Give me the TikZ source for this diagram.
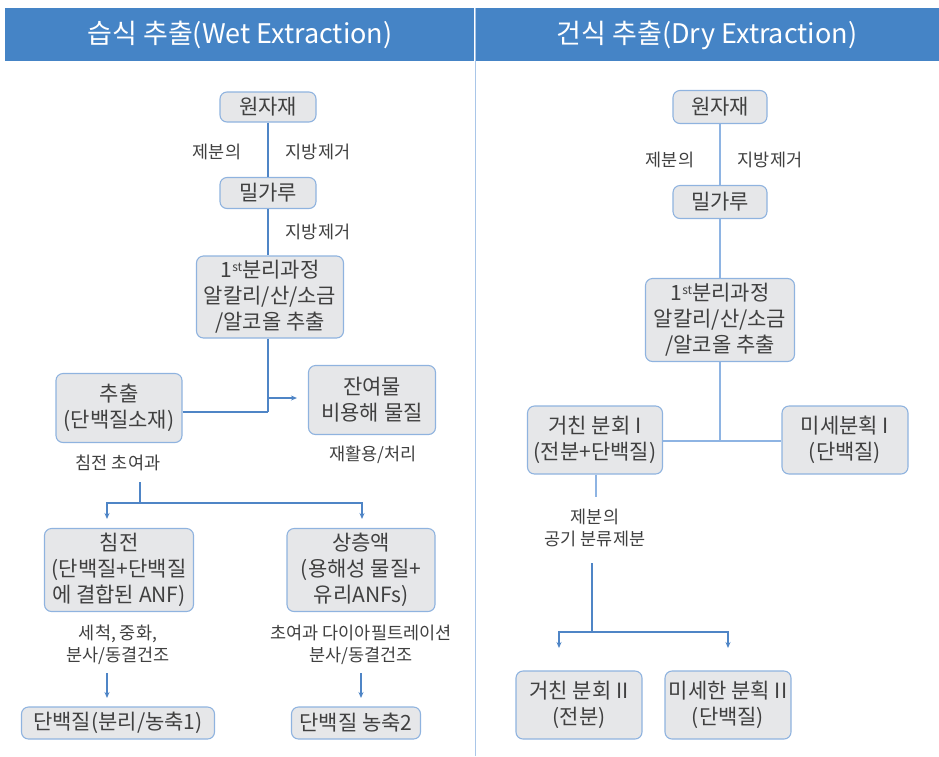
\documentclass[tikz,border=0pt]{standalone}
\usepackage{fontspec}
\setmainfont{Noto Sans CJK KR}
\usetikzlibrary{arrows.meta}
\definecolor{hdr}{HTML}{4584C6}
\definecolor{divc}{HTML}{A9C6E8}
\definecolor{boxfill}{HTML}{E6E7E9}
\definecolor{boxedge}{HTML}{8FB3DF}
\definecolor{lineb}{HTML}{4F85C6}
\definecolor{linel}{HTML}{8EB4E3}
\definecolor{txt}{HTML}{404040}
\tikzset{
  box/.style={draw=boxedge, fill=boxfill, rounded corners=7pt, line width=1.1pt,
    align=center, inner sep=0pt, text=txt, font=\fontsize{21}{26}\selectfont},
  lab/.style={align=center, text=txt, inner sep=0pt, font=\fontsize{17.5}{22}\selectfont},
  conn/.style={draw=lineb, line width=1.1pt},
  connl/.style={draw=linel, line width=1.6pt},
  arr/.style={conn, -{Stealth[length=6pt,width=5pt]}},
  hdrtext/.style={text=white, font=\fontsize{27}{30}\selectfont}
}
\newcommand{\stsup}{\raisebox{0.55ex}{\fontsize{12}{12}\selectfont st}}
\begin{document}
\begin{tikzpicture}[x=1pt,y=-1pt]
\useasboundingbox (0,0) rectangle (939,756);
% header
\fill[hdr] (5,8) rectangle (474,61);
\fill[hdr] (476,8) rectangle (939,61);
\node[hdrtext] (h1) at (240,35) {습식 추출(Wet Extraction)};
\node[hdrtext] (h2) at (707,35) {건식 추출(Dry Extraction)};
\draw[divc, line width=0.8pt] (475,8) -- (475,756);

% ===== left column =====
\node[box, minimum width=96, minimum height=30] (w1) at (268,107) {원자재};
\node[box, minimum width=96, minimum height=31] (w2) at (268,193) {밀가루};
\node[lab] (l1) at (217,152) {제분의};
\node[lab] (l2) at (318,152) {지방제거};
\node[lab] (l3) at (318,232) {지방제거};
\node[box, minimum width=147, minimum height=82] (w3) at (270,297) {1\stsup 분리과정\\알칼리/산/소금\\/알코올 추출};
\node[box, minimum width=126, minimum height=69] (w4) at (119,408) {추출\\(단백질소재)};
\node[box, minimum width=127, minimum height=69] (w5) at (372,400) {잔여물\\비용해 물질};
\node[lab] (l4) at (118,463) {침전 초여과};
\node[lab] (l5) at (373,455) {재활용/처리};
\node[box, minimum width=149, minimum height=83] (w6) at (119,570) {침전\\(단백질+단백질\\에 결합된 ANF)};
\node[box, minimum width=148, minimum height=83] (w7) at (361,570) {상층액\\(용해성 물질+\\유리ANFs)};
\node[lab] (l6) at (118,645) {세척, 중화,\\분사/동결건조};
\node[lab] (l7) at (361,645) {초여과 다이아필트레이션\\분사/동결건조};
\node[box, minimum width=193, minimum height=32] (w8) at (118,723) {단백질(분리/농축1)};
\node[box, minimum width=129, minimum height=32] (w9) at (356,723) {단백질 농축2};

\coordinate (j1) at (268,412);
\coordinate (j2) at (268,398);
\coordinate (c1) at (140,482);
\coordinate (j3) at (140,503);
\coordinate (a1) at (107,519);
\coordinate (a2) at (362,519);
\coordinate (b1) at (107,673);
\coordinate (b1e) at (107,698);
\coordinate (b2) at (361,673);
\coordinate (b2e) at (361,698);

\draw[conn] (w1.south -| j1) -- (w2.north -| j1);
\draw[conn] (w2.south -| j1) -- (w3.north -| j1);
\draw[conn] (w3.south -| j1) -- (j1);
\draw[conn] (w4.east |- j1) -- (j1);
\draw[arr] (j2) -- ([xshift=-11pt]w5.west |- j2);
\draw[conn] (c1) -- (j3);
\draw[arr] (j3) -| (a1);
\draw[arr] (j3) -| (a2);
\draw[arr] (b1) -- (b1e);
\draw[arr] (b2) -- (b2e);

% ===== right column =====
\node[box, minimum width=94, minimum height=33] (r1) at (720,107) {원자재};
\node[box, minimum width=94, minimum height=33] (r2) at (720,202) {밀가루};
\node[lab] (m1) at (670,160) {제분의};
\node[lab] (m2) at (770,160) {지방제거};
\node[box, minimum width=149, minimum height=83] (r3) at (720,320) {1\stsup 분리과정\\알칼리/산/소금\\/알코올 추출};
\node[box, minimum width=135, minimum height=68] (r4) at (595,440) {거친 분회 I\\(전분+단백질)};
\node[box, minimum width=126, minimum height=68] (r5) at (845,440) {미세분획 I\\(단백질)};
\node[lab] (m3) at (595,528) {제분의\\공기 분류제분};
\node[box, minimum width=126, minimum height=68] (r6) at (579,705) {거친 분회 II\\(전분)};
\node[box, minimum width=126, minimum height=68] (r7) at (728,705) {미세한 분획 II\\(단백질)};

\coordinate (k1) at (720,441);
\coordinate (k2) at (596,497);
\coordinate (k3) at (592,563);
\coordinate (k4) at (592,632);
\coordinate (e1) at (559,648);
\coordinate (e2) at (728,648);

\draw[connl] (r1) -- (r2);
\draw[connl] (r2) -- (r3);
\draw[connl] (r3.south) -- (k1);
\draw[connl] (r4.east |- k1) -- (r5.west |- k1);
\draw[connl] (r4.south -| k2) -- (k2);
\draw[conn] (k3) -- (k4);
\draw[arr] (k4) -| (e1);
\draw[arr] (k4) -| (e2);
\end{tikzpicture}
\end{document}
